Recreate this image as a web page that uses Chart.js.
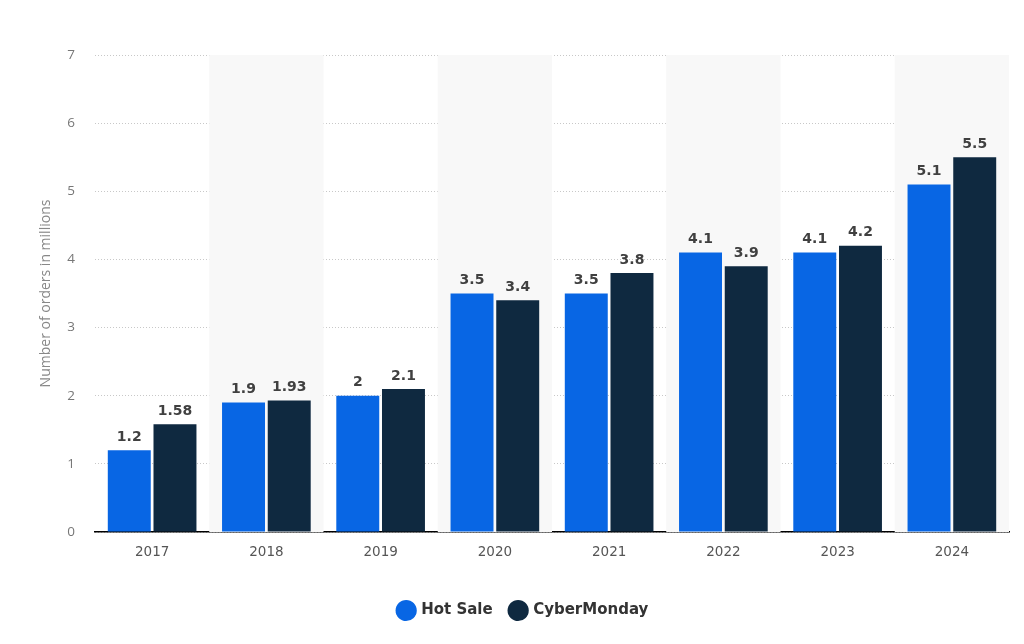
<!DOCTYPE html>
<html>
<head>
<meta charset="utf-8">
<script src="https://cdn.jsdelivr.net/npm/chart.js@4/dist/chart.umd.min.js"></script>
<style>
html,body{margin:0;padding:0;background:#fff;}
#wrap{width:1024px;height:644px;position:relative;}
</style>
</head>
<body>
<div id="wrap"><canvas id="c" width="1024" height="644"></canvas></div>
<script>
const categories = ["2017","2018","2019","2020","2021","2022","2023","2024"];
const hotSale = [1.2, 1.9, 2, 3.5, 3.5, 4.1, 4.1, 5.1];
const cyberMonday = [1.58, 1.93, 2.1, 3.4, 3.8, 3.9, 4.2, 5.5];
const yTicks = [0,1,2,3,4,5,6,7];

const bandPlugin = {
  id: 'bands',
  beforeDatasetsDraw(chart) {
    const {ctx, chartArea, scales:{x}} = chart;
    ctx.save();
    ctx.fillStyle = '#f8f8f8';
    const w = x.getPixelForValue(1) - x.getPixelForValue(0);
    categories.forEach((c, i) => {
      if (i % 2 === 1) {
        const cx = x.getPixelForValue(i);
        ctx.fillRect(cx - w/2, chartArea.top, w, chartArea.bottom - chartArea.top);
      }
    });
    ctx.restore();
  }
};

const labelPlugin = {
  id: 'valueLabels',
  afterDatasetsDraw(chart) {
    const {ctx} = chart;
    ctx.save();
    ctx.font = 'bold 14px "DejaVu Sans", sans-serif';
    ctx.fillStyle = '#404040';
    ctx.textAlign = 'center';
    ctx.textBaseline = 'bottom';
    chart.data.datasets.forEach((ds, di) => {
      const meta = chart.getDatasetMeta(di);
      meta.data.forEach((bar, i) => {
        ctx.fillText(String(ds.data[i]), bar.x, bar.y - 6);
      });
    });
    ctx.restore();
  }
};

new Chart(document.getElementById('c'), {
  type: 'bar',
  data: {
    labels: categories,
    datasets: [
      {label: 'Hot Sale', data: hotSale, backgroundColor: '#0866e4', barPercentage: 0.94, categoryPercentage: 0.8},
      {label: 'CyberMonday', data: cyberMonday, backgroundColor: '#0f2940', barPercentage: 0.94, categoryPercentage: 0.8}
    ]
  },
  options: {
    responsive: false,
    animation: false,
    devicePixelRatio: 1,
    layout: {padding: {left: 38, right: 15, top: 55, bottom: 16}},
    plugins: {
      tooltip: {enabled: false},
      legend: {
        position: 'bottom',
        labels: {
          usePointStyle: true,
          pointStyle: 'circle',
          boxWidth: 17,
          boxHeight: 17,
          padding: 18,
          color: '#333',
          font: {family: '"DejaVu Sans", sans-serif', size: 15, weight: 'bold'}
        }
      }
    },
    scales: {
      x: {
        grid: {display: false, drawTicks: false},
        border: {display: true, color: '#000', width: 1.5},
        ticks: {color: '#555', padding: 12, font: {family: '"DejaVu Sans", sans-serif', size: 13.5}},
        afterFit(s) { s.height = 53; }
      },
      y: {
        min: 0, max: 7,
        afterBuildTicks(s) { s.ticks = yTicks.map(v => ({value: v})); },
        grid: {color: '#c8c8c8', lineWidth: 1, drawTicks: false, borderDash: [1, 2]},
        border: {display: false, dash: [1,2]},
        ticks: {color: '#777', padding: 20, font: {family: '"Open Sans", sans-serif', size: 13.5}},
        title: {display: true, text: 'Number of orders in millions', color: '#888', padding: 0, font: {family: '"Open Sans", sans-serif', size: 14}},
        afterFit(s) { s.width = 57; }
      }
    }
  },
  plugins: [bandPlugin, labelPlugin]
});
</script>
</body>
</html>
